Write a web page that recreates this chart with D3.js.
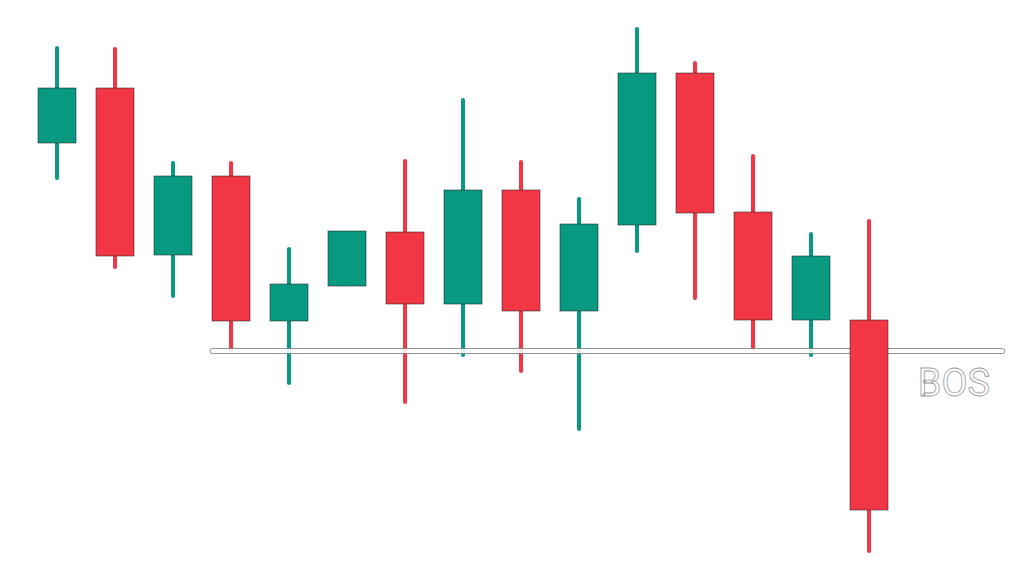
<!DOCTYPE html>
<html><head><meta charset="utf-8">
<script src="https://cdn.jsdelivr.net/npm/d3@7"></script>
<style>html,body{margin:0;padding:0;background:#fff;}svg{display:block;}</style>
</head><body>
<svg id="c" width="1024" height="576"></svg>
<script>
const candles = [1,2,3,4,5,6,7,8,9,10,11,12,13,14,15];
const open  = [216.5,244,160.5,200,127.5,145,172,136,193,132.5,175.5,251.5,182,128,128];
const close = [244,160,200,127.5,146,172.5,136,193,132.5,176,251.5,181.5,128,160,33];
const high  = [264,263.5,206.5,206.5,163.5,172.5,207.5,238,207,188.5,273.5,256.5,210,171,177.5];
const low   = [199,154.5,140,113,96.5,145,87,110.5,102.5,73.5,162.5,139,113.5,110.5,12.5];
const bosLevel = 112.5;
const bosStart = 4;
const bosLabel = "BOS";

const W = 1024, H = 576;
const svg = d3.select("#c");
const x = d3.scaleBand().domain(candles).range([28, 28 + 58*candles.length]).padding(0);
const y = d3.scaleLinear().domain([0, 288]).range([576, 0]);
const bodyW = 38;
const green = "#089981", red = "#f23645";

const data = candles.map((c,i)=>({c, o:open[i], cl:close[i], h:high[i], l:low[i]}));
const cx = d => x(d.c) + x.bandwidth()/2;
const col = d => d.cl >= d.o ? green : red;

function drawCandles(sel, arr) {
  const wicks = [];
  arr.forEach(d => {
    const top = Math.max(d.o, d.cl), bot = Math.min(d.o, d.cl);
    if (d.h > top) wicks.push({d, a: d.h, b: top});
    if (d.l < bot) wicks.push({d, a: bot, b: d.l});
  });
  sel.selectAll("line.wick").data(wicks).join("line").attr("class","wick")
    .attr("x1", w=>cx(w.d)).attr("x2", w=>cx(w.d))
    .attr("y1", w=>y(w.a)).attr("y2", w=>y(w.b))
    .attr("stroke", w=>col(w.d)).attr("stroke-width", 4).attr("stroke-linecap","round");
  sel.selectAll("rect.body").data(arr).join("rect").attr("class","body")
    .attr("x", d=>cx(d)-bodyW/2).attr("width", bodyW)
    .attr("y", d=>y(Math.max(d.o,d.cl)))
    .attr("height", d=>Math.abs(y(d.o)-y(d.cl)))
    .attr("fill", col).attr("stroke", "rgba(40,40,40,0.7)").attr("stroke-width", 0.8);
}

drawCandles(svg.append("g"), data.slice(0, -1));

const x0 = x(bosStart) + x.bandwidth()/2 - 21;
svg.append("rect")
  .attr("x", x0).attr("y", y(bosLevel)-2.5)
  .attr("width", W - 19 - x0).attr("height", 5)
  .attr("rx", 2.5)
  .attr("fill", "rgba(255,255,255,0.85)")
  .attr("stroke", "#777").attr("stroke-width", 0.8);

drawCandles(svg.append("g"), data.slice(-1));

svg.append("text")
  .attr("x", 954).attr("y", 396)
  .attr("text-anchor","middle")
  .attr("font-family","Roboto, sans-serif")
  .attr("font-size", 38)
  .attr("fill","#fff").attr("stroke","#999").attr("stroke-width",0.8)
  .text(bosLabel);
</script>
</body></html>
